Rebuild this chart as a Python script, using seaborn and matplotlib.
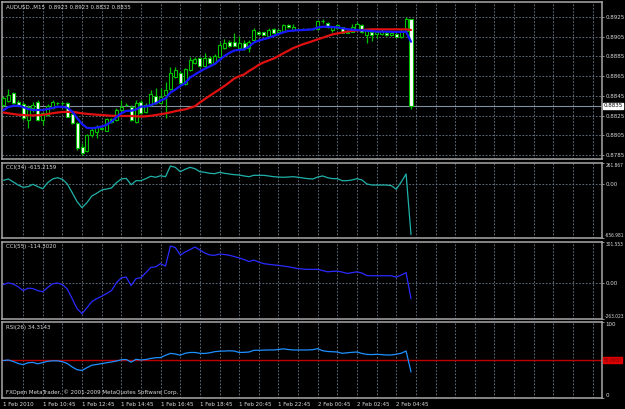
import numpy as np
import pandas as pd
import matplotlib
matplotlib.use("Agg")
import matplotlib.pyplot as plt
import matplotlib.transforms as mtransforms
import seaborn as sns

# ---------------- data ----------------
opens = [0.88357, 0.88401, 0.88476, 0.88391, 0.88364, 0.88205, 0.88324, 0.88391, 0.88205, 0.88256,
         0.88324, 0.88375, 0.88373, 0.88375, 0.88263, 0.88172, 0.87934, 0.87894, 0.88053, 0.88087,
         0.88119, 0.88097, 0.88212, 0.88205, 0.88307, 0.88357, 0.88340, 0.88188, 0.88391, 0.88289,
         0.88357, 0.88449, 0.88381, 0.88459, 0.88517, 0.88644, 0.88685, 0.88570, 0.88712, 0.88786,
         0.88831, 0.88753, 0.88837, 0.88780, 0.88841, 0.88932, 0.88999, 0.88999, 0.88932, 0.88989,
         0.88932, 0.89016, 0.89101, 0.89094, 0.89057, 0.89125, 0.89101, 0.89111, 0.89168, 0.89118,
         0.89125, 0.89125, 0.89125, 0.89125, 0.89125, 0.89206, 0.89192, 0.89118, 0.89135, 0.89145,
         0.89094, 0.89101, 0.89118, 0.89168, 0.89067, 0.89094, 0.89077, 0.89077, 0.89090, 0.89067,
         0.89077, 0.89044, 0.89111, 0.89230]
highs = [0.88449, 0.88517, 0.88492, 0.88408, 0.88388, 0.88357, 0.88391, 0.88408, 0.88286, 0.88367,
         0.88408, 0.88388, 0.88383, 0.88388, 0.88276, 0.88185, 0.87969, 0.88063, 0.88121, 0.88155,
         0.88134, 0.88225, 0.88225, 0.88327, 0.88408, 0.88373, 0.88357, 0.88408, 0.88408, 0.88378,
         0.88509, 0.88527, 0.88527, 0.88594, 0.88746, 0.88746, 0.88702, 0.88732, 0.88847, 0.88847,
         0.88844, 0.88882, 0.88854, 0.88874, 0.88999, 0.89023, 0.89016, 0.89084, 0.89057, 0.89016,
         0.89016, 0.89135, 0.89111, 0.89101, 0.89135, 0.89138, 0.89128, 0.89179, 0.89179, 0.89179,
         0.89133, 0.89135, 0.89135, 0.89135, 0.89219, 0.89226, 0.89199, 0.89151, 0.89179, 0.89151,
         0.89101, 0.89179, 0.89202, 0.89179, 0.89118, 0.89125, 0.89118, 0.89125, 0.89111, 0.89111,
         0.89098, 0.89125, 0.89250, 0.89230]
lows = [0.88340, 0.88391, 0.88367, 0.88347, 0.88205, 0.88121, 0.88289, 0.88195, 0.88155, 0.88246,
        0.88317, 0.88362, 0.88362, 0.88236, 0.88165, 0.87901, 0.87850, 0.87886, 0.88030, 0.88020,
        0.88109, 0.88089, 0.88180, 0.88195, 0.88296, 0.88347, 0.88195, 0.88180, 0.88266, 0.88276,
        0.88347, 0.88367, 0.88367, 0.88225, 0.88509, 0.88631, 0.88570, 0.88560, 0.88702, 0.88773,
        0.88743, 0.88743, 0.88773, 0.88773, 0.88834, 0.88925, 0.88946, 0.88951, 0.88925, 0.88915,
        0.88898, 0.89006, 0.89070, 0.89064, 0.89050, 0.89084, 0.89092, 0.89103, 0.89143, 0.89111,
        0.89118, 0.89115, 0.89115, 0.89115, 0.89118, 0.89186, 0.89138, 0.89095, 0.89125, 0.89084,
        0.89084, 0.89094, 0.89111, 0.89087, 0.88989, 0.89009, 0.89034, 0.89070, 0.89060, 0.89060,
        0.89044, 0.89037, 0.89103, 0.88320]
closes = [0.88425, 0.88459, 0.88375, 0.88357, 0.88222, 0.88340, 0.88357, 0.88205, 0.88273, 0.88347,
          0.88391, 0.88375, 0.88375, 0.88239, 0.88172, 0.87918, 0.87874, 0.88053, 0.88104, 0.88137,
          0.88121, 0.88212, 0.88188, 0.88307, 0.88340, 0.88357, 0.88205, 0.88381, 0.88273, 0.88357,
          0.88466, 0.88381, 0.88441, 0.88509, 0.88685, 0.88712, 0.88577, 0.88719, 0.88814, 0.88821,
          0.88753, 0.88837, 0.88780, 0.88854, 0.88966, 0.88983, 0.88956, 0.88959, 0.88989, 0.88938,
          0.88999, 0.89118, 0.89077, 0.89067, 0.89118, 0.89090, 0.89118, 0.89168, 0.89151, 0.89145,
          0.89125, 0.89125, 0.89125, 0.89125, 0.89212, 0.89212, 0.89145, 0.89145, 0.89168, 0.89090,
          0.89090, 0.89145, 0.89179, 0.89094, 0.89111, 0.89067, 0.89101, 0.89111, 0.89067, 0.89090,
          0.89050, 0.89111, 0.89226, 0.88350]

ma_fast = [0.88307, 0.88337, 0.88349, 0.88350, 0.88337, 0.88317, 0.88307, 0.88307, 0.88307, 0.88317,
           0.88327, 0.88340, 0.88339, 0.88329, 0.88291, 0.88225, 0.88165, 0.88126, 0.88122, 0.88129,
           0.88139, 0.88157, 0.88189, 0.88236, 0.88274, 0.88298, 0.88299, 0.88312, 0.88342, 0.88342,
           0.88357, 0.88375, 0.88403, 0.88424, 0.88484, 0.88514, 0.88550, 0.88580, 0.88636, 0.88667,
           0.88697, 0.88725, 0.88748, 0.88773, 0.88814, 0.88854, 0.88885, 0.88910, 0.88917, 0.88921,
           0.88950, 0.88991, 0.89011, 0.89025, 0.89039, 0.89057, 0.89077, 0.89094, 0.89108, 0.89112,
           0.89116, 0.89118, 0.89121, 0.89125, 0.89143, 0.89151, 0.89151, 0.89148, 0.89145, 0.89136,
           0.89126, 0.89121, 0.89118, 0.89114, 0.89111, 0.89107, 0.89102, 0.89101, 0.89101, 0.89100,
           0.89098, 0.89099, 0.89101, 0.88999]
ma_slow = [0.88281, 0.88273, 0.88266, 0.88259, 0.88256, 0.88253, 0.88252, 0.88254, 0.88258, 0.88266,
           0.88274, 0.88281, 0.88286, 0.88288, 0.88288, 0.88281, 0.88273, 0.88268, 0.88263, 0.88259,
           0.88256, 0.88252, 0.88249, 0.88247, 0.88246, 0.88246, 0.88246, 0.88243, 0.88241, 0.88243,
           0.88248, 0.88256, 0.88264, 0.88272, 0.88283, 0.88295, 0.88305, 0.88313, 0.88329, 0.88345,
           0.88383, 0.88418, 0.88451, 0.88484, 0.88516, 0.88550, 0.88587, 0.88626, 0.88649, 0.88667,
           0.88702, 0.88732, 0.88765, 0.88790, 0.88809, 0.88828, 0.88854, 0.88882, 0.88908, 0.88935,
           0.88954, 0.88974, 0.88989, 0.89006, 0.89023, 0.89040, 0.89057, 0.89073, 0.89083, 0.89092,
           0.89102, 0.89109, 0.89114, 0.89118, 0.89122, 0.89125, 0.89125, 0.89125, 0.89125, 0.89125,
           0.89125, 0.89125, 0.89125, 0.89118]

cci34 = [50, 66, 29, -8, -36, -28, 1, -28, -53, 21, 66, 82, 62, 5, -102, -212, -286, -224, -142, -109,
         -69, -57, -44, 21, 66, 74, -4, 45, 45, 70, 99, 87, 106, 94, 225, 209, 155, 185, 209, 192,
         155, 148, 136, 131, 148, 136, 127, 119, 115, 103, 94, 111, 111, 111, 103, 94, 90, 87, 90, 94,
         87, 78, 70, 66, 90, 103, 82, 70, 70, 45, 45, 54, 70, 54, 5, -8, -8, -8, -8, -16,
         -60, 29, 127, -615.2159]
cci55 = [-11, 1.5, -7, -27, -55, -37, -40, -55, -63, -32, -5, 1, -10, -44, -114, -188, -224, -180, -135, -114,
         -96, -77, -55, 2, 39, 44, -18, 33, 40, 77, 115, 119, 143, 125, 272, 261, 206, 228, 246, 265,
         243, 221, 206, 204, 213, 210, 204, 195, 184, 173, 158, 169, 154, 143, 138, 134, 130, 125, 120, 113,
         106, 103, 101, 101, 101, 92, 83, 86, 88, 81, 71, 77, 83, 74, 55, 54, 54, 54, 54, 54,
         44, 59, 77, -114.3020]
rsi26 = [49.3, 50.0, 48.0, 45.4, 43.8, 46.4, 46.8, 45.0, 46.6, 48.3, 48.9, 48.9, 47.8, 45.4, 40.8, 37.2, 36.3, 39.9,
         43.2, 44.1, 45.3, 46.4, 47.4, 48.7, 50.3, 50.7, 47.1, 50.9, 50.0, 50.7, 52.0, 53.0, 53.2, 56.2, 58.7,
         57.9, 56.3, 58.8, 59.9, 59.9, 58.8, 58.6, 59.5, 60.9, 61.6, 61.8, 62.1, 61.8, 59.9, 60.1, 60.5, 62.8,
         62.8, 63.0, 63.2, 63.2, 63.8, 64.7, 63.8, 63.2, 63.2, 63.2, 63.2, 63.6, 64.9, 62.2, 61.2, 60.9, 60.5,
         58.8, 59.5, 60.1, 60.5, 58.6, 57.4, 57.1, 57.5, 57.1, 56.6, 56.6, 57.6, 58.9, 61.8, 34.3143]

time_labels = ["1 Feb 2010", "1 Feb 10:45", "1 Feb 12:45", "1 Feb 14:45", "1 Feb 16:45", "1 Feb 18:45",
               "1 Feb 20:45", "1 Feb 22:45", "2 Feb 00:45", "2 Feb 02:45", "2 Feb 04:45"]
time_label_bars = [0, 8, 16, 24, 32, 40, 48, 56, 64, 72, 80]
price_ticks = [0.8925, 0.8905, 0.8885, 0.8865, 0.8845, 0.8825, 0.8805, 0.8785]
bid_price = 0.8835
cci34_range = (-656.981, 261.867)
cci55_range = (-263.023, 301.553)
rsi_level = 50.0

title_main = "AUDUSD.,M15  0.8923 0.8923 0.8832 0.8835"
title_cci34 = "CCI(34) -615.2159"
title_cci55 = "CCI(55) -114.3020"
title_rsi = "RSI(26) 34.3143"
copyright_text = "FXOpen MetaTrader, \u00a9 2001-2009 MetaQuotes Software Corp."

# ---------------- style ----------------
sns.set_theme(style="dark", rc={"axes.facecolor": "black", "figure.facecolor": "black"})
plt.rcParams["font.family"] = ["DejaVu Sans"]
plt.rcParams["font.stretch"] = "condensed"

GREEN = "#00c000"
GRID = "#6f7f8f"
FG = "#d8d8d8"
FS = 4.4
FS_SMALL = 3.5

fig = plt.figure(figsize=(6.25, 4.09), dpi=100, facecolor="black")
W, H = 625.0, 409.0

def pane(y0, y1, x0=2, x1=602):
    return fig.add_axes([x0 / W, 1 - y1 / H, (x1 - x0) / W, (y1 - y0) / H])

ax_main = pane(2, 159)
ax_c34 = pane(163, 238)
ax_c55 = pane(242, 319)
ax_rsi = pane(322, 398)
axes = [ax_main, ax_c34, ax_c55, ax_rsi]

n = len(closes)
bars = np.arange(n)
XL = (-0.3, 121.9)

for ax in axes:
    ax.set_facecolor("black")
    ax.set_xlim(*XL)
    for s in ax.spines.values():
        s.set_color("#a8a8a8")
        s.set_linewidth(1.1)
    ax.yaxis.tick_right()
    ax.tick_params(axis="y", colors="#a8a8a8", labelcolor=FG, labelsize=FS, length=1.5, width=0.6, pad=0.8)
    ax.tick_params(axis="x", length=0, labelbottom=False)
    ax.grid(False)
    for k in range(4, 122, 4):
        ax.axvline(k, color=GRID, lw=0.6, ls=(0, (2, 2)), zorder=0.5)

# ---------------- main pane ----------------
ax = ax_main
ax.set_ylim(0.87810, 0.89402)
for p in price_ticks:
    ax.axhline(p, color=GRID, lw=0.6, ls=(0, (2, 2)), zorder=0.5)
ax.set_yticks(price_ticks)
ax.set_yticklabels([f"{p:.4f}" for p in price_ticks])
ax.axhline(bid_price, color="#8090a0", lw=0.8, zorder=1)

o = np.array(opens); c = np.array(closes); h = np.array(highs); l = np.array(lows)
ax.vlines(bars, l, h, color=GREEN, lw=0.9, zorder=2)
bear = c < o
body_col = np.where(bear, "white", "black")
ax.bar(bars, c - o, bottom=o, width=0.62, color=body_col, edgecolor=GREEN, linewidth=0.8, zorder=3)

df_ma = pd.DataFrame({"bar": bars, "fast": ma_fast, "slow": ma_slow})
sns.lineplot(data=df_ma, x="bar", y="slow", ax=ax, color="#e01010", lw=1.6, zorder=4)
sns.lineplot(data=df_ma, x="bar", y="fast", ax=ax, color="#1818ff", lw=1.6, zorder=5)
ax.set_xlabel(""); ax.set_ylabel("")
ax.set_xlim(*XL)
ax.text(0.006, 0.985, title_main, transform=ax.transAxes, va="top", ha="left", color=FG, fontsize=FS)
bt = mtransforms.blended_transform_factory(ax.transAxes, ax.transData)
ax.text(1.002, bid_price, f"{bid_price:.4f}", transform=bt, va="center", ha="left", color="black",
        fontsize=FS, bbox=dict(facecolor="white", edgecolor="white", pad=0.5))

# ---------------- CCI panes ----------------
def cci_pane(ax, vals, rng, color, title):
    lo, hi = rng
    ax.set_ylim(lo, hi)
    ax.axhline(0, color=GRID, lw=0.6, ls=(0, (2, 2)), zorder=0.5)
    d = pd.DataFrame({"bar": bars, "v": vals})
    sns.lineplot(data=d, x="bar", y="v", ax=ax, color=color, lw=0.9, zorder=3)
    ax.set_xlabel(""); ax.set_ylabel("")
    ax.set_xlim(*XL)
    ax.set_yticks([hi, 0, lo])
    ax.set_yticklabels([f"{hi:.3f}", "0.00", f"{lo:.3f}"])
    labs = ax.get_yticklabels()
    labs[0].set_va("top"); labs[1].set_va("center"); labs[2].set_va("bottom")
    labs[0].set_fontsize(FS_SMALL); labs[2].set_fontsize(FS_SMALL)
    ax.text(0.006, 0.97, title, transform=ax.transAxes, va="top", ha="left", color=FG, fontsize=FS)

cci_pane(ax_c34, cci34, cci34_range, "#20b2aa", title_cci34)
cci_pane(ax_c55, cci55, cci55_range, "#2a2aff", title_cci55)

# ---------------- RSI pane ----------------
ax = ax_rsi
ax.set_ylim(0, 100)
ax.axhline(rsi_level, color="#c00000", lw=1.0, zorder=2)
d = pd.DataFrame({"bar": bars, "v": rsi26})
sns.lineplot(data=d, x="bar", y="v", ax=ax, color="#1e90ff", lw=0.9, zorder=3)
ax.set_xlabel(""); ax.set_ylabel("")
ax.set_xlim(*XL)
ax.set_yticks([100, 0])
ax.set_yticklabels(["100", "0"])
labs = ax.get_yticklabels()
labs[0].set_va("top"); labs[1].set_va("bottom")
ax.text(0.006, 0.965, title_rsi, transform=ax.transAxes, va="top", ha="left", color=FG, fontsize=FS)
ax.text(0.006, 0.04, copyright_text, transform=ax.transAxes, va="bottom", ha="left", color=FG, fontsize=FS)
bt = mtransforms.blended_transform_factory(ax.transAxes, ax.transData)
ax.text(1.002, rsi_level, f"{rsi_level:.4f}", transform=bt, va="center", ha="left", color="#700000",
        fontsize=FS_SMALL, bbox=dict(facecolor="#e00000", edgecolor="#e00000", pad=0.5))

ax.set_xticks(time_label_bars)
ax.set_xticklabels(time_labels, ha="left")
ax.tick_params(axis="x", labelbottom=True, length=2, width=0.6, colors="#a8a8a8", labelcolor=FG,
               labelsize=FS, pad=1.2)

fig.savefig("out.png", dpi=100, facecolor="black")
